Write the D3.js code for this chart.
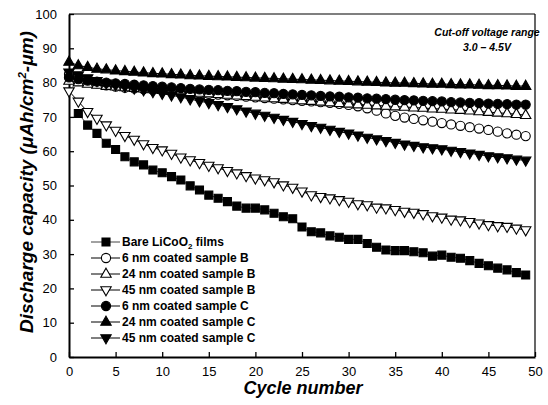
<!DOCTYPE html>
<html>
<head>
<meta charset="utf-8">
<script src="https://cdn.jsdelivr.net/npm/d3@7/dist/d3.min.js"></script>
<style>
html,body{margin:0;padding:0;background:#fff;}
svg{display:block;font-family:"Liberation Sans",Arial,sans-serif;}
</style>
</head>
<body>
<svg id="chart" width="548" height="405"></svg>
<script>
const cycles = [0,1,2,3,4,5,6,7,8,9,10,11,12,13,14,15,16,17,18,19,20,21,22,23,24,25,26,27,28,29,30,31,32,33,34,35,36,37,38,39,40,41,42,43,44,45,46,47,48,49];

const bare = [null,71.0,67.6,65.2,62.3,60.5,58.4,56.9,56.0,54.5,53.7,52.6,51.6,49.9,48.7,47.2,46.3,45.3,44.0,43.4,43.4,42.9,41.9,40.9,40.3,37.9,36.5,36.2,35.3,34.9,34.3,34.3,33.1,32.0,31.2,31.0,31.0,30.7,30.4,29.4,29.7,29.1,28.8,28.1,27.3,26.6,25.9,25.4,24.6,23.9];
const b6 = [82.5,81.5,80.5,79.8,79.2,78.8,78.5,78.3,78.1,77.9,77.7,77.5,77.3,77.1,76.9,76.7,76.5,76.3,76.1,75.9,75.7,75.5,75.3,75.1,74.9,74.7,74.5,74.3,74.1,73.8,73.5,73.1,72.5,71.8,71.0,70.3,69.8,69.4,69.0,68.6,68.2,67.8,67.4,67.0,66.6,66.2,65.7,65.2,64.8,64.4];
const b24 = [80.5,80.0,79.6,79.3,79.0,78.8,78.6,78.4,78.2,78.0,77.8,77.6,77.4,77.2,77.0,76.8,76.6,76.4,76.2,76.0,75.8,75.6,75.4,75.2,75.0,74.8,74.6,74.4,74.2,74.0,73.8,73.6,73.5,73.3,73.2,73.0,72.9,72.7,72.6,72.4,72.3,72.1,72.0,71.8,71.6,71.4,71.2,71.0,70.8,70.5];
const b45 = [77.5,74.5,71.5,69.5,67.6,66.0,64.5,63.4,62.1,61.0,60.3,59.3,58.2,57.4,56.6,55.8,55.1,54.3,53.6,52.8,52.1,51.6,51.0,50.1,49.4,48.3,47.2,46.7,46.3,45.8,45.3,44.6,44.3,43.6,43.4,42.9,42.4,42.1,41.7,41.1,40.7,40.1,39.9,39.4,39.0,38.5,38.2,38.0,37.5,37.0];
const c6 = [81.5,81.0,80.6,80.3,80.0,79.8,79.6,79.4,79.2,79.0,78.8,78.6,78.4,78.2,78.0,77.9,77.8,77.6,77.5,77.3,77.2,77.0,76.9,76.7,76.6,76.4,76.3,76.1,76.0,75.9,75.7,75.6,75.4,75.3,75.2,75.0,74.9,74.8,74.7,74.6,74.5,74.3,74.2,74.1,74.0,73.9,73.8,73.7,73.6,73.6];
const c24 = [86.0,85.0,84.5,84.0,83.8,83.5,83.3,83.1,82.9,82.7,82.6,82.4,82.3,82.1,82.0,81.9,81.8,81.7,81.6,81.5,81.4,81.3,81.2,81.1,81.0,80.9,80.8,80.7,80.6,80.5,80.4,80.3,80.2,80.1,80.0,79.9,79.9,79.8,79.7,79.6,79.6,79.5,79.4,79.4,79.3,79.2,79.2,79.1,79.0,79.0];
const c45 = [83.0,82.2,81.3,80.5,79.8,79.3,78.8,78.3,77.8,77.3,76.8,76.3,75.8,75.2,74.6,74.1,73.5,72.9,72.3,71.6,71.0,70.4,69.8,69.2,68.6,68.0,67.4,66.9,66.3,65.7,65.2,64.6,64.0,63.5,63.0,62.5,62.0,61.6,61.2,60.9,60.6,60.2,59.8,59.4,59.0,58.6,58.3,58.0,57.6,57.3];

const seriesNames = ["Bare LiCoO\u2082 films","6 nm coated sample B","24 nm coated sample B","45 nm coated sample B","6 nm coated sample C","24 nm coated sample C","45 nm coated sample C"];
const seriesValues = [bare,b6,b24,b45,c6,c24,c45];
const seriesSymbols = ["square","circle","triangle","triangleDown","circle","triangle","triangleDown"];
const seriesFilled = [true,false,false,false,true,true,true];

const xTicks = [0,5,10,15,20,25,30,35,40,45,50];
const yTicks = [0,10,20,30,40,50,60,70,80,90,100];

const svg = d3.select("#chart");
const L = 69, R = 535, T = 14, B = 357;
const x = d3.scaleLinear().domain([0,50]).range([L,R]);
const y = d3.scaleLinear().domain([0,100]).range([B,T]);

function symPath(type){
  if(type==="square") return d3.symbol(d3.symbolSquare, 64)();
  if(type==="circle") return d3.symbol(d3.symbolCircle, 66)();
  if(type==="triangle") return "M0,-5.8L5.2,3.3L-5.2,3.3Z";
  if(type==="triangleDown") return "M0,5.8L5.2,-3.3L-5.2,-3.3Z";
}

// frame top/right
svg.append("line").attr("x1",L).attr("x2",R).attr("y1",T).attr("y2",T).attr("stroke","#000").attr("stroke-width",1.2);
svg.append("line").attr("x1",R).attr("x2",R).attr("y1",T).attr("y2",B).attr("stroke","#000").attr("stroke-width",1.2);

// axes
const xAxis = d3.axisBottom(x).tickValues(xTicks).tickSizeInner(-5).tickSizeOuter(0).tickPadding(10);
const gx = svg.append("g").attr("transform",`translate(0,${B})`).call(xAxis);
const yAxis = d3.axisLeft(y).tickValues(yTicks).tickSizeInner(-5).tickSizeOuter(0).tickPadding(12);
const gy = svg.append("g").attr("transform",`translate(${L},0)`).call(yAxis);
[gx,gy].forEach(g=>{
  g.select(".domain").attr("stroke","#000").attr("stroke-width",2);
  g.selectAll(".tick line").attr("stroke","#000").attr("stroke-width",1.3);
  g.selectAll(".tick text").attr("fill","#000").style("font-size","13px").style("font-family","'Liberation Sans',Arial,sans-serif");
});

// series
const line = d3.line().defined(d=>d.v!==null).x(d=>x(d.c)).y(d=>y(d.v));
seriesValues.forEach((vals,i)=>{
  const data = cycles.map((c,j)=>({c:c,v:vals[j]}));
  svg.append("path").datum(data).attr("d",line).attr("fill","none")
    .attr("stroke", i===0 ? "#444" : "#000").attr("stroke-width",1);
  svg.append("g").selectAll("path").data(data.filter(d=>d.v!==null)).join("path")
    .attr("d",symPath(seriesSymbols[i]))
    .attr("transform",d=>`translate(${x(d.c)},${y(d.v)})`)
    .attr("fill",seriesFilled[i]?"#000":"#fff")
    .attr("stroke","#000").attr("stroke-width",1.1);
});

// legend
const legY0 = 242, legDy = 16;
seriesNames.forEach((name,i)=>{
  const yy = legY0 + i*legDy;
  svg.append("line").attr("x1",91).attr("x2",120).attr("y1",yy).attr("y2",yy)
    .attr("stroke", i===0 ? "#444" : "#000").attr("stroke-width",1);
  svg.append("path").attr("d",symPath(seriesSymbols[i])).attr("transform",`translate(106,${yy})`)
    .attr("fill",seriesFilled[i]?"#000":"#fff").attr("stroke","#000").attr("stroke-width",1.1);
  const t = svg.append("text").attr("x",122).attr("y",yy+4.3)
    .style("font-size","12px").style("font-weight","bold").attr("fill","#000");
  if(i===0){
    t.append("tspan").text("Bare LiCoO");
    t.append("tspan").text("2").style("font-size","8px").attr("dy",3);
    t.append("tspan").text(" films").attr("dy",-3);
  } else {
    t.text(name);
  }
});

// annotation
svg.append("text").attr("x",487).attr("y",36).attr("text-anchor","middle")
  .style("font-size","10.5px").style("font-weight","bold").style("font-style","italic").text("Cut-off voltage range");
svg.append("text").attr("x",487).attr("y",51).attr("text-anchor","middle")
  .style("font-size","10.5px").style("font-weight","bold").style("font-style","italic").text("3.0 \u2013 4.5V");

// axis titles
svg.append("text").attr("x",303).attr("y",394).attr("text-anchor","middle")
  .style("font-size","18px").style("font-weight","bold").style("font-style","italic").text("Cycle number");
const yt = svg.append("text").attr("transform","translate(33,182) rotate(-90)").attr("text-anchor","middle")
  .style("font-size","19px").style("font-weight","bold").style("font-style","italic");
yt.append("tspan").text("Discharge capacity (\u03BCAh/cm");
yt.append("tspan").text("2").style("font-size","11.5px").attr("dy",-7.5);
yt.append("tspan").text("-\u03BCm)").attr("dy",7.5);
</script>
</body>
</html>
